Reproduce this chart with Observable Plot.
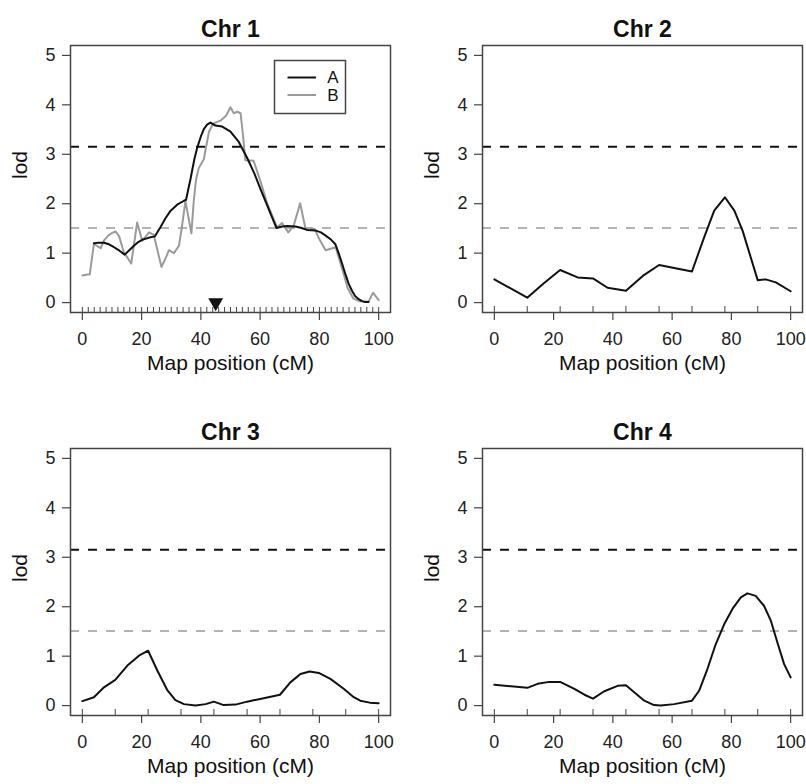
<!DOCTYPE html>
<html><head><meta charset="utf-8">
<script src="https://cdn.jsdelivr.net/npm/d3@7"></script>
<script src="https://cdn.jsdelivr.net/npm/@observablehq/plot@0.6"></script>
<style>
body{margin:0;background:#fff;overflow:hidden;}
#wrap{position:relative;width:806px;height:784px;background:#fff;}
.panel{position:absolute;}
</style></head><body><div id="wrap"></div>
<script>
// ---- data ----
const xTicks = [0, 20, 40, 60, 80, 100];
const yTicks = [0, 1, 2, 3, 4, 5];
const thresholdHigh = [3.15];
const thresholdLow = [1.51];
const seriesNames = ["A", "B"];
const chrTitles = ["Chr 1", "Chr 2", "Chr 3", "Chr 4"];
const peakChr1 = [45];

const markersChr1 = [0,2,4,6,8,10,12,14,16,18,20,22,24,26,28,30,32,34,36,38,40,42,44,46,48,50,52,54,56,58,60,62,64,66,68,70,72,74,76,78,80,82,84,86,88,90,92,94,96,98,100];
const markersOther = [0, 11.1, 22.2, 33.3, 44.4, 55.6, 66.7, 77.8, 88.9, 100];

const chr1PosA = [3.9,5.3,7.3,9.0,10.7,12.5,14.3,16.0,17.4,19.0,20.2,22.3,24.5,26.4,28.0,29.8,32.0,34.3,35.0,36.5,37.8,38.8,40.0,41.0,42.1,43.2,44.9,47.2,50.0,52.8,55.6,58.0,60.1,62.0,64.0,65.5,67.5,69.1,71.9,74.0,75.8,78.6,80.5,82.0,84.0,85.4,86.5,87.6,88.8,89.9,91.0,92.1,93.3,94.4,95.5,96.6];
const chr1LodA = [1.20,1.21,1.21,1.18,1.12,1.05,0.97,1.07,1.15,1.23,1.27,1.31,1.34,1.53,1.70,1.86,1.98,2.06,2.08,2.50,2.90,3.14,3.36,3.51,3.60,3.64,3.58,3.56,3.46,3.25,2.93,2.62,2.30,2.02,1.73,1.51,1.54,1.55,1.54,1.51,1.47,1.46,1.42,1.36,1.27,1.18,1.00,0.80,0.57,0.38,0.24,0.13,0.07,0.03,0.01,0.01];

const chr1PosB = [0,1.7,2.5,3.9,5.3,6.2,7.3,9.0,10.1,11.2,12.4,14.0,16.5,18.5,20.2,22.5,24.1,26.7,28.5,29.2,30.9,32.6,33.4,34.8,36.8,37.6,38.4,39.3,41.0,42.7,44.1,46.6,48.5,50.0,51.1,52.3,53.4,54.2,55.0,57.8,60.4,62.4,65.7,67.4,69.5,71.3,73.5,75.3,78.4,80.0,82.1,85.5,88.2,89.5,91.5,93.5,96.6,98.1,100];
const chr1LodB = [0.55,0.57,0.57,1.19,1.13,1.10,1.26,1.37,1.41,1.44,1.34,1.02,0.79,1.62,1.25,1.42,1.37,0.72,0.95,1.06,1.00,1.15,1.45,2.05,1.40,2.06,2.50,2.72,2.90,3.45,3.62,3.68,3.78,3.95,3.83,3.86,3.83,3.40,2.88,2.87,2.40,2.00,1.52,1.61,1.42,1.55,2.01,1.50,1.49,1.28,1.06,1.12,0.58,0.30,0.08,0.03,0.02,0.20,0.05];

const chr2Pos = [0,11.1,16.5,22.2,28.1,33.3,38.2,44.4,50.1,55.6,60.7,66.7,70.8,74.2,77.8,81.0,83.8,88.9,91.6,95.0,100];
const chr2Lod = [0.47,0.10,0.38,0.66,0.51,0.49,0.30,0.24,0.54,0.76,0.70,0.63,1.32,1.86,2.13,1.86,1.45,0.45,0.47,0.41,0.23];

const chr3Pos = [0,3.9,7.3,11.1,15.2,19.1,22.2,25.3,28.6,31.4,34.3,38.2,41.6,44.4,47.7,51.7,55.6,61.2,66.7,70.2,73.6,76.7,79.8,83.7,88.2,91.6,93.8,97.0,100];
const chr3Lod = [0.09,0.17,0.37,0.52,0.81,1.01,1.11,0.71,0.32,0.11,0.03,0.00,0.03,0.08,0.01,0.02,0.08,0.15,0.22,0.47,0.64,0.69,0.66,0.54,0.34,0.17,0.10,0.06,0.05];

const chr4Pos = [0,5.6,11.1,14.6,18.5,22.2,27.0,30.4,33.3,37.1,41.6,44.4,47.2,50.6,53.9,56.2,60.7,66.7,69.1,71.9,74.7,77.6,80.4,83.2,85.4,88.2,91.0,93.3,95.5,97.8,100];
const chr4Lod = [0.42,0.39,0.36,0.44,0.48,0.48,0.34,0.22,0.14,0.29,0.40,0.41,0.27,0.10,0.01,0.00,0.03,0.10,0.30,0.74,1.24,1.65,1.96,2.19,2.27,2.22,2.02,1.72,1.28,0.84,0.57];

// ---- build ----
const zip = (xs, ys) => xs.map((x, i) => ({pos: x, lod: ys[i]}));
const FONT = "'Liberation Sans', Arimo, Helvetica, Arial, sans-serif";
const AXIS = "#444";

const panels = [
  {title: chrTitles[0], left: 0, top: 0, markers: markersChr1, rugLen: 5,
   lines: [{data: zip(chr1PosB, chr1LodB), stroke: "#9a9a9a"}, {data: zip(chr1PosA, chr1LodA), stroke: "#111"}],
   peak: peakChr1, legend: true},
  {title: chrTitles[1], left: 412, top: 0, markers: markersOther, rugLen: 6,
   lines: [{data: zip(chr2Pos, chr2Lod), stroke: "#111"}]},
  {title: chrTitles[2], left: 0, top: 403, markers: markersOther, rugLen: 6,
   lines: [{data: zip(chr3Pos, chr3Lod), stroke: "#111"}]},
  {title: chrTitles[3], left: 412, top: 403, markers: markersOther, rugLen: 6,
   lines: [{data: zip(chr4Pos, chr4Lod), stroke: "#111"}]}
];

const wrap = document.getElementById("wrap");
const H = 381, W = 394, MT = 45, MB = 69, ML = 70, MR = 4;
const pxPerLod = (H - MT - MB) / 5.4;

for (const p of panels) {
  const marks = [
    Plot.ruleY(thresholdHigh, {y: d => d, stroke: "#111", strokeWidth: 2, strokeDasharray: "9,9"}),
    Plot.ruleY(thresholdLow, {y: d => d, stroke: "#9a9a9a", strokeWidth: 1.6, strokeDasharray: "9,9"}),
    ...p.lines.map(l => Plot.line(l.data, {x: "pos", y: "lod", stroke: l.stroke, strokeWidth: 2, curve: "linear"})),
    Plot.ruleX(p.markers, {x: d => d, y1: -0.2, y2: -0.2 + p.rugLen / pxPerLod, stroke: AXIS, strokeWidth: 1}),
    Plot.axisX(xTicks, {tickSize: 8, tickPadding: 12, fontSize: 18, stroke: AXIS, strokeWidth: 1.2, label: null}),
    Plot.axisY(yTicks, {tickSize: 8, tickPadding: 7, fontSize: 18, stroke: AXIS, strokeWidth: 1.2, label: null}),
    Plot.frame({stroke: AXIS, strokeWidth: 1.5}),
    Plot.text([p.title], {frameAnchor: "top", dy: -25, fontSize: 23, fontWeight: "bold", fill: "#111"}),
    Plot.text(["Map position (cM)"], {frameAnchor: "bottom", dy: 57, fontSize: 21, fill: "#111"}),
    Plot.text(["lod"], {frameAnchor: "left", dx: -50, rotate: -90, fontSize: 21, fill: "#111"})
  ];
  if (p.peak) {
    marks.push(Plot.dot(p.peak, {x: d => d, y: 0, symbol: "triangle", r: 5.5, rotate: 180, fill: "#111", stroke: "none"}));
  }
  const chart = Plot.plot({
    width: W, height: H,
    marginTop: MT, marginBottom: MB, marginLeft: ML, marginRight: MR,
    x: {domain: [-4, 104], axis: null},
    y: {domain: [-0.2, 5.2], axis: null},
    style: {fontFamily: FONT, color: "#222", background: "#fff", overflow: "visible"},
    marks
  });
  chart.classList.add("panel");
  chart.style.left = p.left + "px";
  chart.style.top = p.top + "px";
  chart.style.position = "absolute";
  if (p.legend) {
    const svg = d3.select(chart);
    const g = svg.append("g").attr("font-family", FONT);
    g.append("rect").attr("x", 274.5).attr("y", 60.5).attr("width", 71).attr("height", 53)
      .attr("fill", "#fff").attr("stroke", AXIS).attr("stroke-width", 1.5);
    const colors = ["#111", "#9a9a9a"];
    seriesNames.forEach((name, i) => {
      const yy = 77.5 + i * 17.5;
      g.append("line").attr("x1", 287.5).attr("x2", 316).attr("y1", yy).attr("y2", yy)
        .attr("stroke", colors[i]).attr("stroke-width", 2);
      g.append("text").attr("x", 333).attr("y", yy).attr("dy", "0.35em").attr("text-anchor", "middle")
        .attr("font-size", 17).attr("fill", "#111").text(name);
    });
  }
  wrap.appendChild(chart);
}
</script>
</body></html>
